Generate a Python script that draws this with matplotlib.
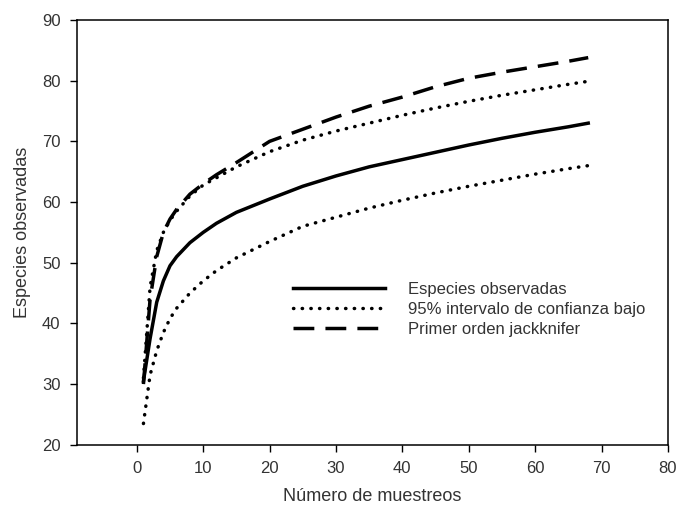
import matplotlib
matplotlib.use("Agg")
from matplotlib import pyplot as plt

plt.rcParams['font.family'] = ['Liberation Sans', 'DejaVu Sans']

muestras = [1, 2, 3, 4, 5, 6, 8, 10, 12, 15, 20, 25, 30, 35, 40, 45, 50, 55, 60, 65, 68]

observadas = [30.5, 37.5, 43.5, 47.0, 49.5, 51.0, 53.3, 55.0, 56.5, 58.3, 60.5,
              62.6, 64.3, 65.8, 67.0, 68.2, 69.4, 70.5, 71.5, 72.4, 73.0]

ic_bajo = [23.5, 31.5, 35.5, 38.5, 40.8, 42.5, 45.0, 47.0, 48.7, 50.8, 53.5,
           56.0, 57.5, 59.0, 60.3, 61.5, 62.6, 63.6, 64.6, 65.5, 66.0]

ic_alto = [31.0, 46.0, 52.0, 55.0, 57.0, 58.5, 61.0, 62.8, 64.0, 65.8, 68.3,
           70.2, 71.7, 73.0, 74.3, 75.5, 76.6, 77.6, 78.5, 79.4, 79.9]

jackknife = [30.0, 44.0, 51.0, 55.0, 57.2, 58.8, 61.3, 63.0, 64.5, 66.5, 70.0,
             72.0, 74.0, 75.8, 77.3, 79.0, 80.4, 81.4, 82.3, 83.2, 83.8]

fig = plt.figure(figsize=(6.76, 5.13), dpi=100)
ax = fig.add_axes([0.114, 0.133, 0.874, 0.828])

dotted = (0, (0.1, 2.4))
dashed = (0, (6.0, 3.2))

ax.plot(muestras, observadas, color='black', lw=2.5, label='Especies observadas')
ax.plot(muestras, ic_bajo, color='black', lw=2.5, linestyle=dotted,
        dash_capstyle='round', label='95% intervalo de confianza bajo')
ax.plot(muestras, ic_alto, color='black', lw=2.5, linestyle=dotted,
        dash_capstyle='round')
ax.plot(muestras, jackknife, color='black', lw=2.5, linestyle=dashed,
        label='Primer orden jackknifer')

ax.set_xlim(-9, 80)
ax.set_ylim(20, 90)
ax.set_xticks(range(0, 81, 10))
ax.set_yticks(range(20, 91, 10))
ax.tick_params(direction='out', length=5, width=1, labelsize=12,
               labelcolor='#333333', top=False, right=False, pad=7)
for s in ax.spines.values():
    s.set_linewidth(1.1)

ax.set_xlabel('Número de muestreos', fontsize=13, color='#333333', labelpad=8)
ax.set_ylabel('Especies observadas', fontsize=13, color='#333333', labelpad=8)

ax.legend(loc='upper left', bbox_to_anchor=(0.366, 0.384), frameon=False,
          borderaxespad=0, borderpad=0,
          fontsize=12, handlelength=5.5, handletextpad=1.4, labelspacing=0.3,
          labelcolor='#333333')

fig.savefig('out.png', dpi=100)
